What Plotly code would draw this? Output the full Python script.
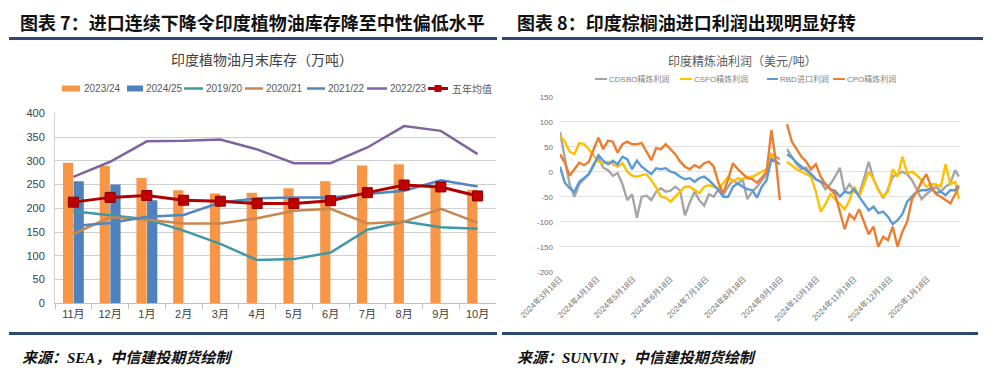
import plotly.graph_objects as go
import pandas as pd

W, H = 993, 380

# ---------------- left chart data: India vegetable oil month-end stocks (10k t) ----------------
months = ["11月", "12月", "1月", "2月", "3月", "4月", "5月", "6月", "7月", "8月", "9月", "10月"]
stock_2023_24 = [296, 289, 264, 238, 231, 233, 242, 257, 290, 293, 247, 239]
stock_2024_25 = [257, 250, 217, None, None, None, None, None, None, None, None, None]
stock_2019_20 = [194, 185, 177, 153, 125, 91, 93, 107, 155, 172, 160, 157]
stock_2020_21 = [146, 181, 176, 168, 168, 179, 195, 199, 168, 172, 199, 170]
stock_2021_22 = [163, 169, 182, 186, 212, 221, 223, 223, 230, 237, 259, 246]
stock_2022_23 = [266, 298, 341, 342, 345, 324, 295, 295, 328, 373, 363, 314]
stock_avg5 = [213, 223, 227, 217, 215, 210, 210, 216, 233, 249, 245, 226]
left_yticks = [0, 50, 100, 150, 200, 250, 300, 350, 400]

# ---------------- right chart data: India refining margins (USD/t) ----------------
profit_dates = (
    list(pd.date_range("2024-03-18", periods=46, freq="4D").strftime("%Y-%m-%d"))
    + ["2024-09-17", "2024-09-20"]
    + list(pd.date_range("2024-09-23", periods=36, freq="4D").strftime("%Y-%m-%d"))
    + ["2025-02-13"]
)
cdsbo = ([80, 25, -25, -50, -25, -15, -5, 15, 28, 8, 3, -8, -3, -25, -57, -45, -92, -50, -48, -57,
          -40, -33, -40, -38, -30, -38, -87, -62, -40, -57, -68, -45, -50, -35, -45, -30, -17, -25,
          -15, -55, -40, -30, -18, -5, 35, 30]
         + [25, None]
         + [45, 30, 15, 5, 8, -5, -15, -20, -35, -25, -10, 8, -40, -25, -40, -45, -15, 20, -15, -35,
            -53, -35, -10, -5, 0, -5, -17, -35, -55, -45, -37, -30, -40, -30, -23, 3]
         + [-10])
csfo = ([72, 60, 40, 35, 57, 55, 45, 33, 20, 17, 20, 15, 10, 17, 0, -8, -10, -7, -5, -17,
         -32, -50, -52, -60, -50, -40, -30, -30, -37, -43, -30, -27, -30, -33, -23, -10, -20, -13,
         -15, -10, -10, -5, 0, 5, 35, 20]
        + [15, None]
        + [20, 12, 5, 0, -5, -10, -40, -80, -65, -45, -55, -65, -75, -57, -30, -50, -25, 0, -15, -37,
           -50, -40, 5, -10, 30, -3, 0, -7, -17, -30, -25, -25, -30, 15, -25, -20]
        + [-55])
rbd = ([10, -22, -33, -40, -20, -12, -5, 12, 33, 22, 15, 22, 15, 30, 25, 5, 22, 10, 3, -5,
        7, 5, 7, 0, -3, -10, -15, -13, -20, -13, -10, -17, -27, -37, -50, -50, -30, -23,
        -30, -35, -37, -52, -30, -17, 25, 20]
       + [15, None]
       + [35, 28, 18, 10, 2, -5, -15, -20, -25, -35, -38, -50, -40, -43, -35, -50, -63, -77, -70, -83,
          -80, -90, -105, -97, -85, -60, -50, -40, -37, -37, -33, -43, -40, -47, -37, -37]
       + [-27])
cpo = ([35, 18, -8, 5, 18, 13, 20, 45, 68, 45, 62, 60, 38, 55, 60, 55, 55, 57, 40, 23,
        47, 45, 55, 45, 35, 20, 10, 5, 13, 8, 17, 20, 10, -23, -43, -15, 17, 5,
        -5, -13, -15, -22, -12, 0, 83, 15]
       + [-57, None]
       + [95, 60, 45, 30, 20, 5, 15, -10, -25, -35, -45, -80, -115, -85, -95, -75, -100, -125, -110, -150,
          -130, -137, -110, -150, -120, -100, -55, -40, -20, -5, -30, -45, -50, -57, -63, -45]
       + [-30])
right_xtick_vals = ["2024-03-18", "2024-04-18", "2024-05-18", "2024-06-18", "2024-07-18", "2024-08-18",
                    "2024-09-18", "2024-10-18", "2024-11-18", "2024-12-18", "2025-01-18"]
right_xtick_text = ["2024年3月18日", "2024年4月18日", "2024年5月18日", "2024年6月18日", "2024年7月18日",
                    "2024年8月18日", "2024年9月18日", "2024年10月18日", "2024年11月18日",
                    "2024年12月18日", "2025年1月18日"]
right_yticks = [-200, -150, -100, -50, 0, 50, 100, 150]
right_yticktext = ["-200", "-150", "-100", "-50", "0", "50", "100", "150"]

# ---------------- styles ----------------
C_BAR1 = "#F79646"
C_BAR2 = "#4F81BD"
C_1920 = "#3F98A8"
C_2021 = "#C9864E"
C_2122 = "#4F86C0"
C_2223 = "#8064A2"
C_AVG = "#B00000"
C_GRAY = "#A5A5A5"
C_YEL = "#FFC000"
C_BLUE = "#5B9BD5"
C_ORG = "#ED7D31"
NAVY = "#2C4870"
CJK = "Noto Sans CJK SC"
LAT = "Liberation Sans, Noto Sans CJK SC"


def X(px):
    return px / W


def Y(py):
    return 1 - py / H


fig = go.Figure()

# left chart traces
fig.add_trace(go.Bar(x=months, y=stock_2023_24, name="2023/24", marker_color=C_BAR1,
                     xaxis="x", yaxis="y", showlegend=False))
fig.add_trace(go.Bar(x=months, y=stock_2024_25, name="2024/25", marker_color=C_BAR2,
                     xaxis="x", yaxis="y", showlegend=False))
for name, vals, col in [("2019/20", stock_2019_20, C_1920), ("2020/21", stock_2020_21, C_2021),
                        ("2021/22", stock_2021_22, C_2122), ("2022/23", stock_2022_23, C_2223)]:
    fig.add_trace(go.Scatter(x=months, y=vals, name=name, mode="lines",
                             line=dict(color=col, width=2.5), xaxis="x", yaxis="y", showlegend=False))
fig.add_trace(go.Scatter(x=months, y=stock_avg5, name="五年均值", mode="lines+markers",
                         line=dict(color=C_AVG, width=3),
                         marker=dict(symbol="square", size=10, color="#C00000",
                                     line=dict(color="#8B0000", width=1)),
                         xaxis="x", yaxis="y", showlegend=False))

# right chart traces
for name, vals, col in [("CDSBO精炼利润", cdsbo, C_GRAY), ("CSFO精炼利润", csfo, C_YEL),
                        ("RBD进口利润", rbd, C_BLUE), ("CPO精炼利润", cpo, C_ORG)]:
    fig.add_trace(go.Scatter(x=profit_dates, y=vals, name=name, mode="lines",
                             line=dict(color=col, width=2.4), connectgaps=False,
                             xaxis="x2", yaxis="y2", showlegend=False))

shapes = []
annotations = []


def hline(x0, x1, y, color, width):
    shapes.append(dict(type="line", xref="paper", yref="paper", x0=X(x0), x1=X(x1),
                       y0=Y(y), y1=Y(y), line=dict(color=color, width=width)))


def rect(x0, x1, y0, y1, color):
    shapes.append(dict(type="rect", xref="paper", yref="paper", x0=X(x0), x1=X(x1),
                       y0=Y(y1), y1=Y(y0), line=dict(width=0), fillcolor=color))


def text(x, y, s, size, color, anchor="left", family=CJK, weight="normal", style="normal"):
    annotations.append(dict(xref="paper", yref="paper", x=X(x), y=Y(y), text=s, showarrow=False,
                            xanchor=anchor, yanchor="middle", borderpad=0,
                            font=dict(size=size, color=color, family=family, weight=weight, style=style)))


# titles & dividers
text(19, 22, "图表 7：进口连续下降令印度植物油库存降至中性偏低水平", 18, "#111111", weight="bold")
text(516, 22, "图表 8：印度棕榈油进口利润出现明显好转", 18, "#111111", weight="bold")
hline(9, 497, 38.5, NAVY, 3)
hline(502, 983, 38.5, NAVY, 3)
hline(9, 497, 333.5, NAVY, 3)
hline(502, 978, 333.5, NAVY, 3)
text(21, 358, "来源：SEA，中信建投期货绘制", 15, "#111111",
     family="Liberation Serif, Noto Sans CJK SC", weight="bold", style="italic")
text(516, 358, "来源：SUNVIN，中信建投期货绘制", 15, "#111111",
     family="Liberation Serif, Noto Sans CJK SC", weight="bold", style="italic")

# chart subtitles
text(262, 59, "印度植物油月末库存（万吨）", 14, "#404040", anchor="center")
text(742, 61, "印度精炼油利润（美元/吨）", 12, "#595959", anchor="center")

# left legend (manual)
LY = 88.5
rect(62, 80, LY - 3, LY + 3, C_BAR1)
text(83, LY, "2023/24", 10, "#595959", family=LAT)
rect(127, 143, LY - 3, LY + 3, C_BAR2)
text(145, LY, "2024/25", 10, "#595959", family=LAT)
for x0, x1, col, lab in [(184, 203, C_1920, "2019/20"), (245, 263, C_2021, "2020/21"),
                         (307, 325, C_2122, "2021/22"), (367, 387, C_2223, "2022/23")]:
    hline(x0, x1, LY, col, 2.5)
    text(x1 + 2, LY, lab, 10, "#595959", family=LAT)
hline(428, 448, LY, C_AVG, 3)
rect(434.5, 441.5, LY - 3.5, LY + 3.5, "#C00000")
text(451, LY, "五年均值", 10, "#595959")

# right legend (manual)
RY = 79
for x0, x1, col, lab in [(595, 607, C_GRAY, "CDSBO精炼利润"), (680, 692, C_YEL, "CSFO精炼利润"),
                         (767, 778, C_BLUE, "RBD进口利润"), (833, 845, C_ORG, "CPO精炼利润")]:
    hline(x0, x1, RY, col, 2)
    text(x1 + 1, RY, lab, 8, "#7F7F7F", family=LAT)

fig.update_layout(
    template="none",
    width=W, height=H, autosize=False,
    margin=dict(l=0, r=0, t=0, b=0, pad=0),
    paper_bgcolor="white", plot_bgcolor="white",
    barmode="group", bargap=0.42, bargroupgap=0.04,
    showlegend=False,
    shapes=shapes, annotations=annotations,
    xaxis=dict(domain=[X(55), X(496)], type="category", categoryorder="array", categoryarray=months,
               range=[-0.5, 11.5], showgrid=False, showline=True, linecolor="#BFBFBF", linewidth=1,
               ticks="outside", tickson="boundaries", ticklen=5, tickcolor="#BFBFBF",
               tickfont=dict(size=11, color="#404040", family=LAT), anchor="y", fixedrange=True,
               automargin=False),
    yaxis=dict(domain=[Y(303.3), Y(113.3)], range=[0, 400], tickvals=left_yticks,
               showgrid=True, gridcolor="#D0D0D0", gridwidth=1, zeroline=False,
               showline=True, linecolor="#D0D0D0", ticks="", ticklabelstandoff=7,
               tickfont=dict(size=11, color="#404040", family=LAT), anchor="x", fixedrange=True,
               automargin=False),
    xaxis2=dict(domain=[X(560), X(960)], type="date", range=["2024-03-18", "2025-02-14"],
                tickvals=right_xtick_vals, ticktext=right_xtick_text, tickangle=-45,
                showgrid=False, showline=False, zeroline=False, ticks="",
                tickfont=dict(size=8, color="#707070", family=LAT), anchor="y2", fixedrange=True,
                automargin=False),
    yaxis2=dict(domain=[Y(271.7), Y(96.7)], range=[-200, 150], tickvals=right_yticks,
                ticktext=right_yticktext, showgrid=True, gridcolor="#E2E2E2", gridwidth=1,
                zeroline=False, showline=False, ticks="", ticklabelstandoff=6,
                tickfont=dict(size=8, color="#707070", family=LAT), anchor="x2", fixedrange=True,
                automargin=False),
)

fig.write_html("out.html", config={"displayModeBar": False},
               post_script="document.body.style.margin='0';document.body.style.overflow='hidden';")
